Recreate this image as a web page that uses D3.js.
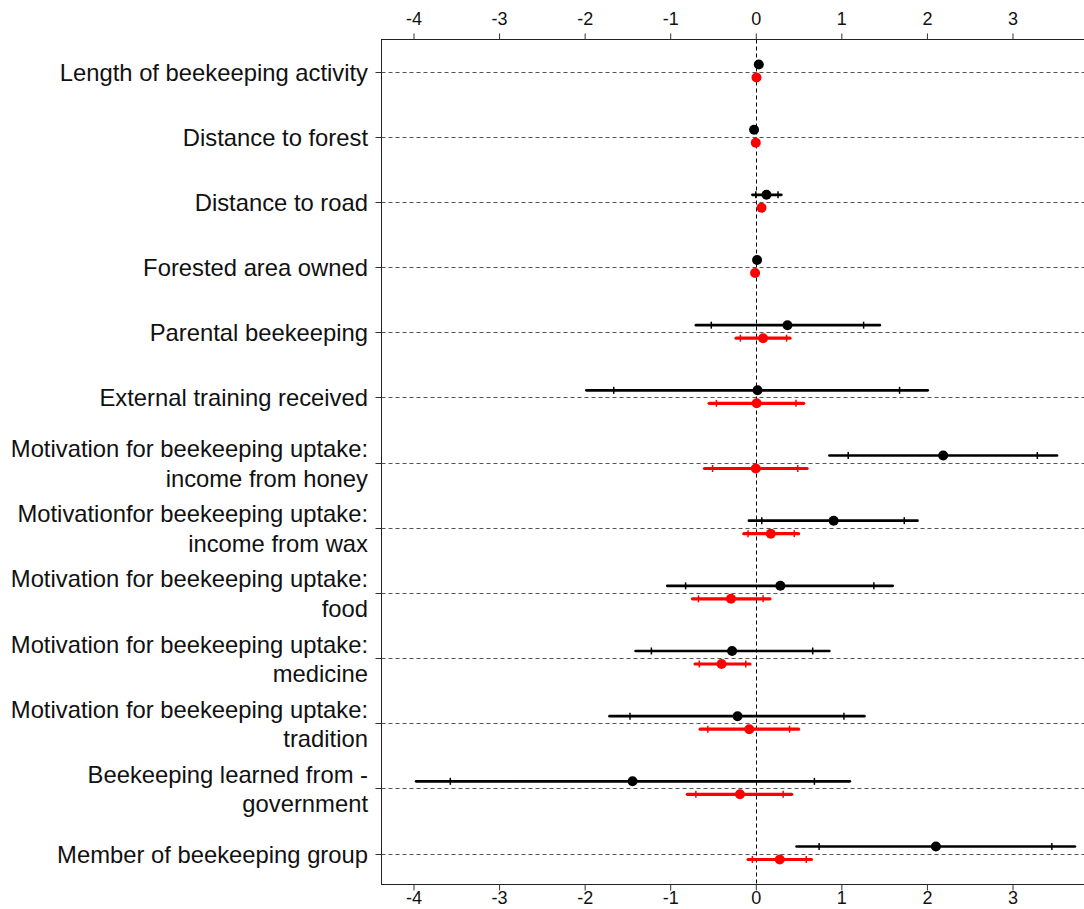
<!DOCTYPE html>
<html>
<head>
<meta charset="utf-8">
<script src="https://cdn.jsdelivr.net/npm/d3@7"></script>
<style>
  body { margin: 0; background: #fff; }
  svg { display: block; font-family: "Liberation Sans", Arial, sans-serif; }
</style>
</head>
<body>
<div id="chart"></div>
<script>
// labels, one array per line
var labels = [
    ["Length of beekeeping activity"],
    ["Distance to forest"],
    ["Distance to road"],
    ["Forested area owned"],
    ["Parental beekeeping"],
    ["External training received"],
    ["Motivation for beekeeping uptake:", "income from honey"],
    ["Motivationfor beekeeping uptake:", "income from wax"],
    ["Motivation for beekeeping uptake:", "food"],
    ["Motivation for beekeeping uptake:", "medicine"],
    ["Motivation for beekeeping uptake:", "tradition"],
    ["Beekeeping learned from -", "government"],
    ["Member of beekeeping group"]
];
var xTicks = [-4, -3, -2, -1, 0, 1, 2, 3];

// black model: estimate, inner interval, outer interval
var blackEst = [0.035, -0.02, 0.125, 0.015, 0.37, 0.02, 2.19, 0.91, 0.287, -0.277, -0.213, -1.44, 2.105];
var blackInLo = [0.03, -0.03, 0.0, 0.01, -0.52, -1.66, 1.08, 0.07, -0.82, -1.22, -1.47, -3.57, 0.74];
var blackInHi = [0.04, -0.01, 0.26, 0.02, 1.26, 1.68, 3.29, 1.735, 1.38, 0.665, 1.03, 0.685, 3.46];
var blackOutLo = [0.02, -0.04, -0.04, 0.0, -0.70, -1.98, 0.86, -0.08, -1.035, -1.405, -1.71, -3.97, 0.476];
var blackOutHi = [0.05, 0.0, 0.30, 0.03, 1.45, 2.01, 3.52, 1.89, 1.60, 0.86, 1.27, 1.10, 3.73];

// red model
var redEst = [0.008, 0.0, 0.067, -0.008, 0.085, 0.01, 0.0, 0.175, -0.29, -0.40, -0.076, -0.185, 0.28];
var redInLo = [0.0, -0.01, 0.04, -0.015, -0.18, -0.46, -0.505, -0.09, -0.67, -0.66, -0.56, -0.70, -0.04];
var redInHi = [0.015, 0.01, 0.09, 0.0, 0.36, 0.47, 0.49, 0.45, 0.085, -0.117, 0.395, 0.32, 0.59];
var redOutLo = [-0.005, -0.015, 0.03, -0.02, -0.23, -0.545, -0.60, -0.14, -0.74, -0.71, -0.65, -0.80, -0.09];
var redOutHi = [0.02, 0.015, 0.10, 0.005, 0.40, 0.56, 0.60, 0.50, 0.166, -0.068, 0.50, 0.42, 0.65];

var width = 1084, height = 909;
var box = { left: 381.5, top: 39.5, right: 1090, bottom: 884.5 };

var svg = d3.select("#chart").append("svg").attr("width", width).attr("height", height);

var x = d3.scaleLinear().domain([-4, 3]).range([413.5, 1012.5]);
var y = d3.scalePoint().domain(d3.range(labels.length)).range([71.5, 853.5]);

// row grid lines
svg.append("g").selectAll("line").data(labels).join("line")
    .attr("x1", box.left).attr("x2", width)
    .attr("y1", (d, i) => Math.round(y(i)) + 0.5).attr("y2", (d, i) => Math.round(y(i)) + 0.5)
    .attr("stroke", "#555").attr("stroke-width", 1).attr("stroke-dasharray", "4,3");

// zero line
svg.append("line").attr("x1", Math.round(x(0)) + 0.5).attr("x2", Math.round(x(0)) + 0.5)
    .attr("y1", box.top).attr("y2", box.bottom)
    .attr("stroke", "#000").attr("stroke-width", 1).attr("stroke-dasharray", "4,3");

// box
svg.append("rect").attr("x", box.left).attr("y", box.top)
    .attr("width", box.right - box.left).attr("height", box.bottom - box.top)
    .attr("fill", "none").attr("stroke", "#222").attr("stroke-width", 1);

// axes
var fmt = d => String(d);
var axTop = svg.append("g").attr("transform", "translate(0," + box.top + ")")
    .call(d3.axisTop(x).tickValues(xTicks).tickSize(6).tickPadding(8.5).tickFormat(fmt));
var axBottom = svg.append("g").attr("transform", "translate(0," + box.bottom + ")")
    .call(d3.axisBottom(x).tickValues(xTicks).tickSize(6).tickPadding(1).tickFormat(fmt));
[axTop, axBottom].forEach(g => {
    g.select(".domain").remove();
    g.selectAll("text").attr("font-size", "18px").attr("fill", "#111")
        .attr("font-family", "'Liberation Sans', Arial, sans-serif");
    g.selectAll(".tick line").attr("stroke", "#333");
});

// y ticks
svg.append("g").selectAll("line").data(labels).join("line")
    .attr("x1", box.left - 6).attr("x2", box.left)
    .attr("y1", (d, i) => Math.round(y(i)) + 0.5).attr("y2", (d, i) => Math.round(y(i)) + 0.5)
    .attr("stroke", "#333");

// y labels
var lab = svg.append("g").selectAll("text").data(labels).join("text")
    .attr("text-anchor", "end").attr("font-size", "23.8px").attr("fill", "#111")
    .attr("x", 368).attr("y", (d, i) => y(i));
lab.selectAll("tspan").data(d => d.map((t, k) => ({ t: t, k: k, n: d.length }))).join("tspan")
    .attr("x", 368)
    .attr("dy", d => d.n === 1 ? 9 : (d.k === 0 ? -5.5 : 29.5))
    .text(d => d.t);

// estimates with intervals
function drawSeries(est, inLo, inHi, outLo, outHi, color, offset, lw) {
    var g = svg.append("g");
    var rows = d3.range(est.length);
    g.selectAll("line.out").data(rows).join("line").attr("class", "out")
        .attr("x1", i => x(outLo[i])).attr("x2", i => x(outHi[i]))
        .attr("y1", i => y(i) + offset).attr("y2", i => y(i) + offset)
        .attr("stroke", color).attr("stroke-width", lw).attr("stroke-linecap", "round");
    [inLo, inHi].forEach(arr => {
        g.append("g").selectAll("line").data(rows).join("line")
            .attr("x1", i => x(arr[i])).attr("x2", i => x(arr[i]))
            .attr("y1", i => y(i) + offset - 3.5).attr("y2", i => y(i) + offset + 3.5)
            .attr("stroke", color).attr("stroke-width", 1.5);
    });
    g.append("g").selectAll("circle").data(rows).join("circle")
        .attr("cx", i => x(est[i])).attr("cy", i => y(i) + offset)
        .attr("r", 5).attr("fill", color);
}
drawSeries(blackEst, blackInLo, blackInHi, blackOutLo, blackOutHi, "#000", -7, 2.6);
drawSeries(redEst, redInLo, redInHi, redOutLo, redOutHi, "#ff0000", 6, 3.2);
</script>
</body>
</html>
